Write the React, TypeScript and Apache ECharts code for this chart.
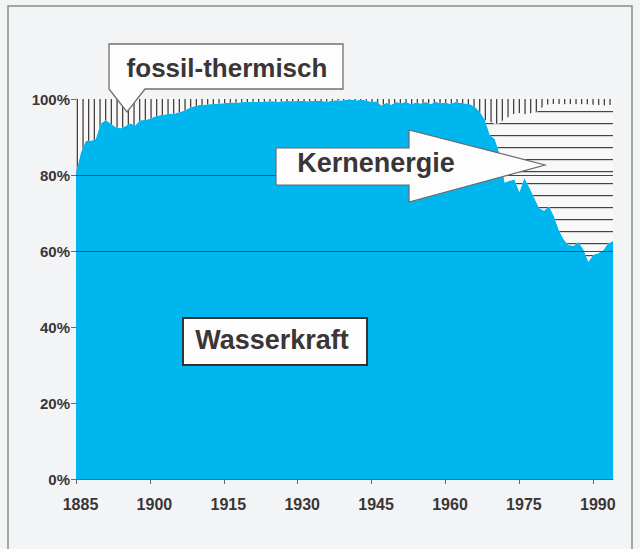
import React, { useEffect, useRef } from "react";
import * as echarts from "echarts";

// Categories: one per year, 1885 … 1994
const years: string[] = [];
for (let y = 1885; y <= 1994; y++) years.push(String(y));

// Shares of Swiss electricity production in %
const wasserkraft = [
  80.5, 86, 89, 89, 89.5, 93.5, 94.5, 93.6, 92.6, 92.3,
  92.8, 93.6, 93.0, 94.4, 94.5, 94.8, 95.4, 95.7, 95.9, 96.1,
  96.2, 96.5, 97.0, 97.6, 98.1, 98.4, 98.5, 98.6, 98.7, 98.8,
  98.9, 99.0, 99.1, 99.1, 99.2, 99.2, 99.3, 99.2, 99.3, 99.4,
  99.4, 99.3, 99.4, 99.5, 99.4, 99.5, 99.5, 99.4, 99.5, 99.6,
  99.5, 99.3, 99.6, 99.7, 99.6, 99.8, 99.8, 99.7, 99.8, 99.6,
  99.2, 99.4, 98.3, 99.0, 98.5, 99.2, 98.9, 99.3, 98.6, 99.1,
  98.8, 99.2, 98.7, 99.3, 98.9, 99.1, 98.7, 99.2, 99.0, 98.8,
  98.6, 97.9, 96.6, 94.5, 90.5, 89.5, 85.5, 78.0, 78.5, 78.8,
  75.5, 79.2, 76.8, 74.0, 71.3, 70.6, 71.8, 69.2, 65.5, 63.0,
  61.6, 61.4, 62.4, 60.4, 57.2, 59.0, 59.4, 60.2, 62.0, 62.6,
];

const kernenergie = [
  0, 0, 0, 0, 0, 0, 0, 0, 0, 0,
  0, 0, 0, 0, 0, 0, 0, 0, 0, 0,
  0, 0, 0, 0, 0, 0, 0, 0, 0, 0,
  0, 0, 0, 0, 0, 0, 0, 0, 0, 0,
  0, 0, 0, 0, 0, 0, 0, 0, 0, 0,
  0, 0, 0, 0, 0, 0, 0, 0, 0, 0,
  0, 0, 0, 0, 0, 0, 0, 0, 0, 0,
  0, 0, 0, 0, 0, 0, 0, 0, 0, 0,
  0, 0, 0, 0, 3.5, 4.0, 8.1, 16.8, 16.9, 17.4,
  20.8, 16.8, 19.4, 22.4, 25.7, 27.7, 26.8, 29.5, 33.2, 35.6,
  37.1, 37.2, 36.3, 38.2, 41.4, 39.5, 39.0, 38.1, 36.4, 35.8,
];

const fossilThermisch = [
  19.5, 14, 11, 11, 10.5, 6.5, 5.5, 6.4, 7.4, 7.7,
  7.2, 6.4, 7.0, 5.6, 5.5, 5.2, 4.6, 4.3, 4.1, 3.9,
  3.8, 3.5, 3.0, 2.4, 1.9, 1.6, 1.5, 1.4, 1.3, 1.2,
  1.1, 1.0, 0.9, 0.9, 0.8, 0.8, 0.7, 0.8, 0.7, 0.6,
  0.6, 0.7, 0.6, 0.5, 0.6, 0.5, 0.5, 0.6, 0.5, 0.4,
  0.5, 0.7, 0.4, 0.3, 0.4, 0.2, 0.2, 0.3, 0.2, 0.4,
  0.8, 0.6, 1.7, 1.0, 1.5, 0.8, 1.1, 0.7, 1.4, 0.9,
  1.2, 0.8, 1.3, 0.7, 1.1, 0.9, 1.3, 0.8, 1.0, 1.2,
  1.4, 2.1, 3.4, 5.5, 6.0, 6.5, 6.4, 5.2, 4.6, 3.8,
  3.7, 4.0, 3.8, 3.6, 3.0, 1.7, 1.4, 1.3, 1.3, 1.4,
  1.3, 1.4, 1.3, 1.4, 1.4, 1.5, 1.6, 1.7, 1.6, 1.6,
];

const gridLineValues = [60, 80];

const FONT = '"Liberation Sans", Arial, Helvetica, sans-serif';
const TEXT = "#3b3535";
const HATCH = "#4a4141";

function makeHatch(w: number, h: number, lines: number[], vertical: boolean) {
  const c = document.createElement("canvas");
  c.width = w;
  c.height = h;
  const ctx = c.getContext("2d")!;
  ctx.fillStyle = "#f8f8f8";
  ctx.fillRect(0, 0, w, h);
  ctx.fillStyle = HATCH;
  for (const p of lines) {
    if (vertical) ctx.fillRect(p, 0, 1.3, h);
    else ctx.fillRect(0, p, w, 1.2);
  }
  return c;
}

export default function App() {
  const ref = useRef<HTMLDivElement>(null);

  useEffect(() => {
    if (!ref.current) return;
    const chart = echarts.init(ref.current, null, { renderer: "svg" });

    const vCanvas = makeHatch(17, 4, [3.0, 8.7, 14.4], true);
    const hCanvas = makeHatch(4, 12, [3], false);
    const vPattern: any = { image: vCanvas, repeat: "repeat", imageWidth: 17, imageHeight: 4 };
    const hPattern: any = { image: hCanvas, repeat: "repeat", imageWidth: 4, imageHeight: 12 };

    const labelStyle = { fontFamily: FONT, fontWeight: "bold" as const, color: TEXT };

    chart.setOption({
      animation: false,
      backgroundColor: "#f3f4f6",
      grid: { left: 76, right: 27, top: 99, bottom: 70 },
      xAxis: [
        {
          type: "category",
          data: years,
          boundaryGap: false,
          position: "bottom",
          axisLine: { show: true, lineStyle: { color: "#6a6a6a", width: 1 } },
          axisTick: { show: true, interval: 14, length: 5, lineStyle: { color: "#6a6a6a" } },
          axisLabel: { ...labelStyle, fontSize: 16, interval: 14, margin: 17, padding: [0, 0, 0, 9] },
          splitLine: { show: false },
        },
        {
          type: "category",
          data: years,
          boundaryGap: false,
          position: "bottom",
          axisLine: { show: false },
          axisTick: { show: true, inside: true, interval: 14, length: 5, lineStyle: { color: "#6a6a6a" } },
          axisLabel: { show: false },
          splitLine: { show: false },
        },
      ],
      yAxis: {
        type: "value",
        min: 0,
        max: 100,
        interval: 20,
        axisLine: { show: true, lineStyle: { color: "#6a6a6a", width: 1 } },
        axisTick: { show: true, length: 5, lineStyle: { color: "#6a6a6a" } },
        axisLabel: { ...labelStyle, fontSize: 15, margin: 6, formatter: "{value}%" },
        splitLine: { show: false },
      },
      series: [
        {
          name: "Wasserkraft",
          type: "line",
          stack: "total",
          data: wasserkraft,
          showSymbol: false,
          symbol: "none",
          lineStyle: { width: 0 },
          areaStyle: { color: "#00b6ee", opacity: 1 },
          markLine: {
            silent: true,
            symbol: "none",
            label: { show: false },
            lineStyle: { color: "#2f4f5c", width: 1, type: "solid" },
            data: gridLineValues.map((v) => ({ yAxis: v })),
          },
        },
        {
          name: "Kernenergie",
          type: "line",
          stack: "total",
          data: kernenergie,
          showSymbol: false,
          symbol: "none",
          lineStyle: { width: 0 },
          areaStyle: { color: hPattern, opacity: 1 },
        },
        {
          name: "fossil-thermisch",
          type: "line",
          stack: "total",
          data: fossilThermisch,
          showSymbol: false,
          symbol: "none",
          lineStyle: { width: 0 },
          areaStyle: { color: vPattern, opacity: 1 },
        },
      ],
      graphic: [
        {
          type: "rect",
          z: 1,
          shape: { x: 8, y: 6, width: 624, height: 600 },
          style: { fill: "none", stroke: "#8a8a8a", lineWidth: 1.5 },
        },
        {
          type: "polygon",
          z: 100,
          shape: { points: [[109, 44], [343, 44], [343, 89], [145, 89], [127, 112], [109, 89]] },
          style: { fill: "#fdfdfd", stroke: "#707070", lineWidth: 1.3 },
        },
        {
          type: "text",
          z: 101,
          x: 227,
          y: 67.5,
          style: {
            text: "fossil-thermisch",
            fontFamily: FONT,
            fontWeight: "bold",
            fontSize: 26,
            fill: TEXT,
            align: "center",
            verticalAlign: "middle",
          },
        },
        {
          type: "polygon",
          z: 100,
          shape: {
            points: [[276, 148], [409, 148], [409, 130], [545, 165], [409, 202], [409, 185], [276, 185]],
          },
          style: { fill: "#fdfdfd", stroke: "#6a6a6a", lineWidth: 1.2 },
        },
        {
          type: "text",
          z: 101,
          x: 376,
          y: 163,
          style: {
            text: "Kernenergie",
            fontFamily: FONT,
            fontWeight: "bold",
            fontSize: 27,
            fill: TEXT,
            align: "center",
            verticalAlign: "middle",
          },
        },
        {
          type: "rect",
          z: 100,
          shape: { x: 183, y: 318, width: 184, height: 47 },
          style: { fill: "#fdfdfd", stroke: "#333333", lineWidth: 2 },
        },
        {
          type: "text",
          z: 101,
          x: 272,
          y: 340,
          style: {
            text: "Wasserkraft",
            fontFamily: FONT,
            fontWeight: "bold",
            fontSize: 27,
            fill: TEXT,
            align: "center",
            verticalAlign: "middle",
          },
        },
      ],
    });

    return () => {
      chart.dispose();
    };
  }, []);

  return (
    <div
      ref={ref}
      style={{ position: "absolute", left: 0, top: 0, width: 640, height: 549 }}
    />
  );
}
